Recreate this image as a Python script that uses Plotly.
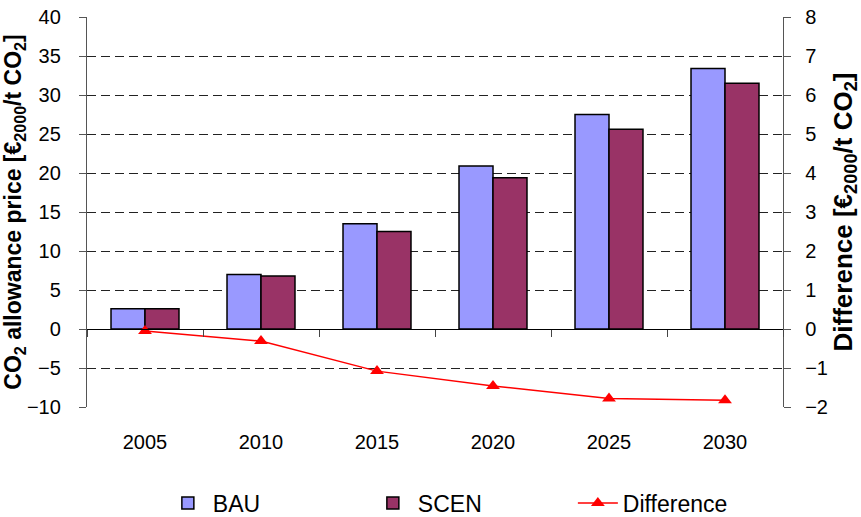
import plotly.graph_objects as go

years = ["2005", "2010", "2015", "2020", "2025", "2030"]
bau = [2.6, 7.0, 13.5, 20.9, 27.5, 33.4]
scen = [2.6, 6.8, 12.5, 19.4, 25.6, 31.5]
difference = [-0.05, -0.31, -1.08, -1.46, -1.78, -1.83]

FONT = "Liberation Sans, Arial, sans-serif"

fig = go.Figure()
fig.add_trace(go.Bar(x=years, y=bau, name="BAU",
                     marker=dict(color="#9999FF", line=dict(color="black", width=1.5))))
fig.add_trace(go.Bar(x=years, y=scen, name="SCEN",
                     marker=dict(color="#993366", line=dict(color="black", width=1.5))))
fig.add_trace(go.Scatter(x=years, y=difference, name="Difference", xaxis="x2", yaxis="y2",
                         mode="lines+markers",
                         line=dict(color="#FF0000", width=1.5),
                         marker=dict(symbol="triangle-up", size=12, color="#FF0000")))

fig.update_layout(
    width=861, height=517,
    margin=dict(l=87, r=78, t=17, b=110, autoexpand=False),
    paper_bgcolor="white", plot_bgcolor="white",
    font=dict(family=FONT, size=18, color="black"),
    barmode="group", bargap=0.414, bargroupgap=0,
    xaxis=dict(type="category", range=[-0.5, 5.5], showline=False, ticks="",
               showgrid=False, ticklabelstandoff=21,
               tickfont=dict(size=20)),
    xaxis2=dict(type="category", range=[-0.5, 5.5], overlaying="x", anchor="free",
                position=0.2, showline=True, linecolor="black", linewidth=1.3,
                ticks="outside", tickson="boundaries", ticklen=7, tickwidth=1.3,
                tickcolor="#444444",
                showticklabels=False, showgrid=False),
    yaxis=dict(range=[-10, 40], dtick=5, showline=True, linecolor="#555555", linewidth=1.3,
               ticks="outside", ticklen=7, tickcolor="#555555", tickwidth=1.3,
               ticklabelstandoff=14, automargin=True,
               tickfont=dict(size=20),
               showgrid=True, gridcolor="#222222", griddash="9px,5px", gridwidth=1,
               zeroline=False,
               title=dict(text="<b>CO<sub>2</sub> allowance price [€<sub>2000</sub>/t CO<sub>2</sub>]</b>",
                          font=dict(size=23), standoff=11)),
    yaxis2=dict(range=[-2, 8], dtick=1, overlaying="y", side="right", anchor="x2",
                showline=True, linecolor="#555555", linewidth=1.3,
                ticks="outside", ticklen=7, tickcolor="#555555", tickwidth=1.3,
                ticklabelstandoff=10, automargin=True,
                tickfont=dict(size=20),
                showgrid=False, zeroline=False,
                title=dict(text="<b>Difference [€<sub>2000</sub>/t CO<sub>2</sub>]</b>",
                           font=dict(size=26), standoff=15)),
    legend=dict(orientation="h", x=0.109, xanchor="left", y=-0.246, yanchor="middle",
                font=dict(size=23), entrywidth=150, itemwidth=40,
                traceorder="normal"),
    showlegend=True,
)

fig.write_html("out.html", config={"displayModeBar": False},
               post_script="document.body.style.margin='0';document.body.style.padding='0';")
